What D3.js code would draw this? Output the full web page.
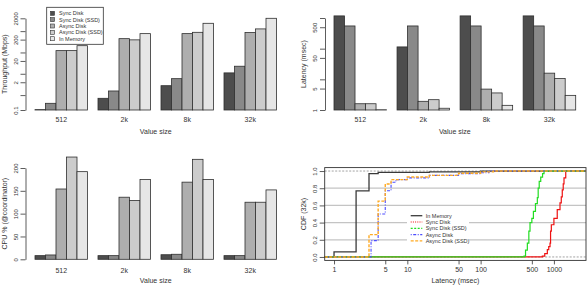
<!DOCTYPE html>
<html>
<head>
<meta charset="utf-8">
<script src="https://cdn.jsdelivr.net/npm/d3@7"></script>
<style>
body { margin: 0; background: #fff; }
svg { font-family: "Liberation Sans", Arial, sans-serif; }
</style>
</head>
<body>
<svg id="chart" width="588" height="287"></svg>
<script>
// ------------------------- data
var sizes = ["512", "2k", "8k", "32k"];
var series = ["Sync Disk", "Sync Disk (SSD)", "Async Disk", "Async Disk (SSD)", "In Memory"];
var barColors = ["#4d4d4d", "#898989", "#aeaeae", "#cccccc", "#e6e6e6"];

// throughput (Mbps), one value per size
var tputSync     = [0.104, 0.354, 1.38, 5.5];
var tputSyncSSD  = [0.206, 0.78, 2.95, 11.3];
var tputAsync    = [61, 222, 382, 430];
var tputAsyncSSD = [61, 195, 440, 636];
var tputMemory   = [104, 382, 1165, 2000];

// latency (msec)
var latSync     = [1170, 114, 1170, 1170];
var latSyncSSD  = [550, 550, 550, 550];
var latAsync    = [1.6, 1.92, 4.8, 15.9];
var latAsyncSSD = [1.6, 2.17, 3.6, 10.6];
var latMemory   = [1.02, 1.14, 1.42, 3.0];

// cpu % on coordinator
var cpuSync     = [8, 8, 10, 8];
var cpuSyncSSD  = [9.5, 8, 11, 8];
var cpuAsync    = [154, 136, 169, 125];
var cpuAsyncSSD = [224, 129, 219, 125];
var cpuMemory   = [192, 175, 175, 152];

// axis ticks
var tputTicks = [0.1, 0.5, 2, 5, 20, 50, 200, 500, 2000];
var tputLabels = [0.1, 2, 20, 200, 2000];
var latTicks = [1, 5, 10, 50, 100, 500, 1000];
var latLabels = [1, 5, 50, 500];
var cpuTicks = [0, 50, 100, 150, 200];
var cdfXTicks = [1, 5, 10, 50, 100, 500, 1000];
var cdfYTicks = [0, 0.2, 0.4, 0.6, 0.8, 1.0];

// CDF of latency for 32k values: [latency msec, cumulative fraction]
var cdfMemory   = [[1, 0.06], [2, 0.77], [3, 0.97], [4, 0.985], [20, 0.99], [100, 1.0]];
var cdfSync     = [[695, 0.01], [750, 0.04], [813, 0.085], [850, 0.12], [885, 0.16], [900, 0.3], [922, 0.375],
                   [1000, 0.45], [1110, 0.55], [1211, 0.63], [1260, 0.7], [1300, 0.78], [1340, 0.85], [1373, 0.92], [1450, 1.0]];
var cdfSyncSSD  = [[391, 0.01], [410, 0.08], [434, 0.16], [455, 0.3], [472, 0.4], [500, 0.45], [525, 0.53],
                   [560, 0.62], [594, 0.69], [610, 0.8], [630, 0.88], [661, 0.93], [700, 0.97], [733, 1.0]];
var cdfAsync    = [[3.2, 0.19], [4, 0.5], [5, 0.77], [6, 0.87], [7, 0.9], [10, 0.92], [20, 0.95], [50, 0.97], [100, 0.98], [130, 1.0]];
var cdfAsyncSSD = [[3, 0.26], [4, 0.65], [5, 0.85], [6, 0.9], [10, 0.93], [20, 0.95], [50, 0.975], [100, 0.99], [150, 1.0]];

var cdfNames  = ["In Memory", "Sync Disk", "Sync Disk (SSD)", "Async Disk", "Async Disk (SSD)"];
var cdfColors = ["#3a3a3a", "#ee1111", "#22dd22", "#4c4cff", "#ffaa22"];

var svg = d3.select("#chart");
var textColor = "#333";

// ------------------------- bar panels
function barPanel(opts) {
    var g = svg.append("g");
    var data = opts.data;

    var x = d3.scaleBand()
        .domain(sizes)
        .range(opts.xRange)
        .paddingInner(1 / 6)
        .paddingOuter(0);
    var xs = d3.scaleBand()
        .domain(series)
        .range([0, x.bandwidth()]);

    var y = opts.y;
    var base = y.domain()[0];

    sizes.forEach(function(size, i) {
        g.selectAll(null)
            .data(series)
            .enter()
            .append("rect")
            .attr("x", function(s) { return x(size) + xs(s); })
            .attr("width", xs.bandwidth())
            .attr("y", function(s, j) { return y(data[j][i]); })
            .attr("height", function(s, j) { return y(base) - y(data[j][i]); })
            .attr("fill", function(s, j) { return barColors[j]; })
            .attr("stroke", "#2e2e2e")
            .attr("stroke-width", 0.8);
    });

    // category labels (no axis line, like R barplot)
    g.selectAll(".cat")
        .data(sizes)
        .enter()
        .append("text")
        .attr("x", function(d) { return x(d) + x.bandwidth() / 2; })
        .attr("y", opts.catY)
        .attr("text-anchor", "middle")
        .attr("font-size", 7)
        .attr("fill", textColor)
        .text(function(d) { return d; });

    // y axis
    var axis = d3.axisLeft(y)
        .tickValues(opts.ticks)
        .tickSize(5)
        .tickSizeOuter(0)
        .tickFormat(function(d) { return opts.labels.indexOf(d) >= 0 ? String(d) : ""; });
    var ax = g.append("g")
        .attr("transform", "translate(" + opts.axisX + ",0)")
        .call(axis);
    ax.select(".domain").attr("stroke", textColor).attr("stroke-width", 0.8);
    ax.selectAll(".tick line").attr("stroke", textColor).attr("stroke-width", 0.8);
    ax.selectAll(".tick text")
        .attr("transform", "rotate(-90)")
        .attr("x", 0)
        .attr("y", -8)
        .attr("dy", 0)
        .attr("text-anchor", "middle")
        .attr("font-size", 6)
        .attr("fill", textColor);

    g.append("text")
        .attr("transform", "translate(" + opts.titleX + "," + (y.range()[0] + y.range()[1]) / 2 + ") rotate(-90)")
        .attr("text-anchor", "middle")
        .attr("font-size", 7)
        .attr("fill", textColor)
        .text(opts.yTitle);

    g.append("text")
        .attr("x", (opts.xRange[0] + opts.xRange[1]) / 2)
        .attr("y", opts.xTitleY)
        .attr("text-anchor", "middle")
        .attr("font-size", 7)
        .attr("fill", textColor)
        .text("Value size");

    return g;
}

var p1 = barPanel({
    data: [tputSync, tputSyncSSD, tputAsync, tputAsyncSSD, tputMemory],
    xRange: [35, 276.5],
    y: d3.scaleLog().domain([0.1, 2000]).range([110, 18.3]),
    ticks: tputTicks, labels: tputLabels,
    axisX: 25.5, titleX: 7, catY: 122, xTitleY: 134,
    yTitle: "Throughput (Mbps)"
});

barPanel({
    data: [latSync, latSyncSSD, latAsync, latAsyncSSD, latMemory],
    xRange: [334, 575.7],
    y: d3.scaleLog().domain([1, 1000]).range([110, 18]),
    ticks: latTicks, labels: latLabels,
    axisX: 325, titleX: 306, catY: 122, xTitleY: 134,
    yTitle: "Latency (msec)"
});

barPanel({
    data: [cpuSync, cpuSyncSSD, cpuAsync, cpuAsyncSSD, cpuMemory],
    xRange: [35, 276.5],
    y: d3.scaleLinear().domain([0, 200]).range([259.3, 168]),
    ticks: cpuTicks, labels: cpuTicks,
    axisX: 25.5, titleX: 7, catY: 273, xTitleY: 283,
    yTitle: "CPU % (@coordinator)"
});

// legend of throughput panel
var leg1 = p1.append("g");
leg1.append("rect")
    .attr("x", 46.7).attr("y", 7.3)
    .attr("width", 56.6).attr("height", 37)
    .attr("fill", "#fff").attr("stroke", "#333").attr("stroke-width", 0.8);
series.forEach(function(s, i) {
    var ly = 13.3 + i * 6.35;
    leg1.append("rect")
        .attr("x", 50.5).attr("y", ly - 2)
        .attr("width", 4).attr("height", 4)
        .attr("fill", barColors[i]).attr("stroke", "#333").attr("stroke-width", 0.6);
    leg1.append("text")
        .attr("x", 59).attr("y", ly + 2)
        .attr("font-size", 5.5)
        .attr("fill", textColor)
        .text(s);
});

// ------------------------- CDF panel
var cx = d3.scaleLog().domain([0.746, 2740]).range([324.7, 586]);
var cy = d3.scaleLinear().domain([-0.04, 1.04]).range([260.4, 167.6]);
var p4 = svg.append("g");

p4.selectAll(".grid")
    .data(cdfYTicks.filter(function(d) { return d > 0 && d < 1; }))
    .enter()
    .append("line")
    .attr("x1", cx.range()[0]).attr("x2", cx.range()[1])
    .attr("y1", function(d) { return cy(d); })
    .attr("y2", function(d) { return cy(d); })
    .attr("stroke", "#c4c4c4").attr("stroke-width", 1.3);

p4.selectAll(".edge")
    .data([0, 1])
    .enter()
    .append("line")
    .attr("x1", cx.range()[0]).attr("x2", cx.range()[1])
    .attr("y1", function(d) { return cy(d); })
    .attr("y2", function(d) { return cy(d); })
    .attr("stroke", "#999").attr("stroke-width", 0.9)
    .attr("stroke-dasharray", "2,1.5");

var cdfData = [cdfMemory, cdfSync, cdfSyncSSD, cdfAsync, cdfAsyncSSD];
var dashes = [null, null, null, "1,1.5,3,1.5", "3,1.5"];
var legDashes = [null, "1,1.2", "2,1.5", "1,1.5,3,1.5", "3,1.5"];
var widths = [1.3, 1.2, 1.2, 1.1, 1.4];

var line = d3.line()
    .x(function(d) { return cx(d[0]); })
    .y(function(d) { return cy(d[1]); })
    .curve(d3.curveStepAfter);

cdfData.forEach(function(pts, i) {
    var full = [[cx.domain()[0], 0]].concat(pts).concat([[cx.domain()[1], 1]]);
    p4.append("path")
        .datum(full)
        .attr("d", line)
        .attr("fill", "none")
        .attr("stroke", cdfColors[i])
        .attr("stroke-width", widths[i])
        .attr("stroke-dasharray", dashes[i]);
});

// legend (white background, no frame)
var leg4 = p4.append("g");
leg4.append("rect")
    .attr("x", 407).attr("y", 211.5)
    .attr("width", 62).attr("height", 33)
    .attr("fill", "#fff");
cdfNames.forEach(function(s, i) {
    var ly = 215.7 + i * 6.3;
    leg4.append("line")
        .attr("x1", 410.7).attr("x2", 422.3)
        .attr("y1", ly).attr("y2", ly)
        .attr("stroke", cdfColors[i])
        .attr("stroke-width", widths[i])
        .attr("stroke-dasharray", legDashes[i]);
    leg4.append("text")
        .attr("x", 425.7).attr("y", ly + 2)
        .attr("font-size", 5.5)
        .attr("fill", textColor)
        .text(s);
});

// frame
p4.append("rect")
    .attr("x", cx.range()[0]).attr("y", cy.range()[1])
    .attr("width", cx.range()[1] - cx.range()[0])
    .attr("height", cy.range()[0] - cy.range()[1])
    .attr("fill", "none").attr("stroke", "#333").attr("stroke-width", 0.9);

var xAx = p4.append("g")
    .attr("transform", "translate(0," + cy.range()[0] + ")")
    .call(d3.axisBottom(cx).tickValues(cdfXTicks).tickSize(4).tickSizeOuter(0)
        .tickFormat(function(d) { return String(d); }));
xAx.select(".domain").remove();
xAx.selectAll(".tick line").attr("stroke", textColor).attr("stroke-width", 0.8);
xAx.selectAll(".tick text").attr("font-size", 7).attr("fill", textColor).attr("y", 7).attr("dy", "0.71em");

var yAx = p4.append("g")
    .attr("transform", "translate(" + cx.range()[0] + ",0)")
    .call(d3.axisLeft(cy).tickValues(cdfYTicks).tickSize(5).tickSizeOuter(0)
        .tickFormat(d3.format(".1f")));
yAx.select(".domain").remove();
yAx.selectAll(".tick line").attr("stroke", textColor).attr("stroke-width", 0.8);
yAx.selectAll(".tick text")
    .attr("transform", "rotate(-90)")
    .attr("x", 0).attr("y", -8).attr("dy", 0)
    .attr("text-anchor", "middle")
    .attr("font-size", 6)
    .attr("fill", textColor);

p4.append("text")
    .attr("transform", "translate(306," + (cy.range()[0] + cy.range()[1]) / 2 + ") rotate(-90)")
    .attr("text-anchor", "middle")
    .attr("font-size", 7)
    .attr("fill", textColor)
    .text("CDF (32k)");

p4.append("text")
    .attr("x", (cx.range()[0] + cx.range()[1]) / 2)
    .attr("y", 283)
    .attr("text-anchor", "middle")
    .attr("font-size", 7)
    .attr("fill", textColor)
    .text("Latency (msec)");
</script>
</body>
</html>
